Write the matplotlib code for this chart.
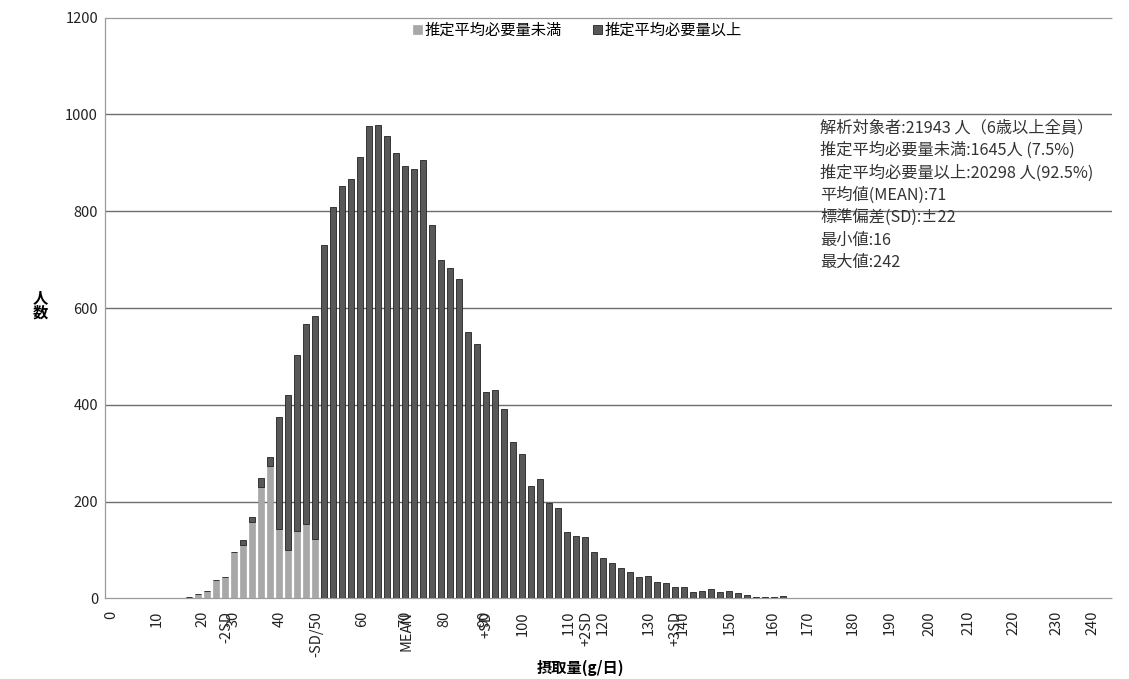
import numpy as np
import matplotlib
matplotlib.use("Agg")
import matplotlib.pyplot as plt

plt.rcParams['font.family'] = ['Noto Sans CJK JP', 'DejaVu Sans']

# counts per intake bin (bin index 0 = lowest intake)
under_ear = [2, 3, 10, 16, 38, 44, 96, 111, 158, 231, 274, 143, 101, 139, 153, 122]
over_ear = [0, 0, 0, 0, 0, 0, 0, 9, 11, 18, 19, 232, 320, 363, 413, 461,
            730, 809, 853, 866, 913, 976, 979, 955, 920, 893, 887, 906, 771, 700,
            683, 660, 550, 525, 426, 430, 391, 323, 298, 232, 246, 198, 187, 138,
            130, 127, 97, 84, 73, 62, 55, 45, 46, 33, 31, 23, 23, 14, 16, 19,
            14, 16, 12, 8, 3, 3, 3, 5, 2, 2, 1, 2, 0, 0, 2, 2]

# x labels as they sit on the category axis
tick_labels = ["0", "10", "20", "-2SD", "30", "40", "-SD/50", "60", "70", "MEAN",
               "80", "90", "+SD", "100", "110", "+2SD", "120", "130", "+3SD", "140",
               "150", "160", "170", "180", "190", "200", "210", "220", "230", "240"]
tick_pos = [-7.67, -2.59, 2.48, 5.19, 5.92, 11.11, 15.19, 20.3, 25.0, 25.19,
            29.44, 33.81, 34.08, 38.14, 43.22, 45.19, 47.0, 52.1, 55.1, 55.9,
            61.1, 65.9, 69.8, 74.8, 78.9, 83.3, 87.6, 92.6, 97.4, 101.4]

info_lines = ["解析対象者:21943 人（6歳以上全員）",
              "推定平均必要量未満:1645人 (7.5%)",
              "推定平均必要量以上:20298 人(92.5%)",
              "平均値(MEAN):71",
              "標準偏差(SD):±22",
              "最小値:16",
              "最大値:242"]

under = np.zeros(len(over_ear))
under[:len(under_ear)] = under_ear
over = np.array(over_ear, dtype=float)
x = np.arange(len(over))

fig = plt.figure(figsize=(11.29, 6.79), dpi=100)
ax = fig.add_axes([0.093, 0.1186, 0.892, 0.8555])

light = "#a8a8a8"
dark = "#585858"
ax.bar(x, under, width=0.68, color=light, edgecolor="#9a9a9a", linewidth=0.4,
       label="推定平均必要量未満", zorder=3)
ax.bar(x, over, width=0.68, bottom=under, color=dark, edgecolor="#222222",
       linewidth=0.6, label="推定平均必要量以上", zorder=3)

ax.set_xlim(-8.33, 103.6)
ax.set_ylim(0, 1200)
ax.set_yticks(np.arange(0, 1201, 200))
ax.yaxis.grid(True, color="#6e6e6e", linewidth=1.0, zorder=0)
ax.set_axisbelow(True)
# top line is the dotted frame, not a gridline
ax.yaxis.get_gridlines()[-1].set_visible(False)
ax.yaxis.get_gridlines()[0].set_visible(False)

ax.set_xticks(tick_pos)
ax.set_xticklabels(tick_labels, rotation=90, fontsize=10.5, color="#222222")
ax.tick_params(axis="x", length=0, pad=9)
ax.tick_params(axis="y", length=0, pad=5, labelsize=10.5, labelcolor="#222222")

for s in ["top", "left", "bottom"]:
    ax.spines[s].set_color("#9a9a9a")
    ax.spines[s].set_linestyle((0, (1, 1)))
    ax.spines[s].set_linewidth(0.9)
ax.spines["right"].set_visible(False)

fig.text(580 / 1129, 1 - 668 / 679, "摂取量(g/日)", fontsize=11, fontweight="bold",
         ha="center", va="center")
fig.text(40 / 1129, 1 - 305 / 679, "人\n数", fontsize=11, fontweight="bold",
         ha="center", va="center", linespacing=1.0)

ax.legend(loc="center", bbox_to_anchor=(0.469, 0.978), ncol=2, frameon=False,
          fontsize=11, handlelength=0.6, handleheight=0.6, handletextpad=0.2,
          columnspacing=2.0)

for i, line in enumerate(info_lines):
    fig.text(820 / 1129, 1 - (128 + i * 22.4) / 679, line, fontsize=11.7,
             color="#333333", ha="left", va="center")

fig.savefig("out.png", dpi=100)
